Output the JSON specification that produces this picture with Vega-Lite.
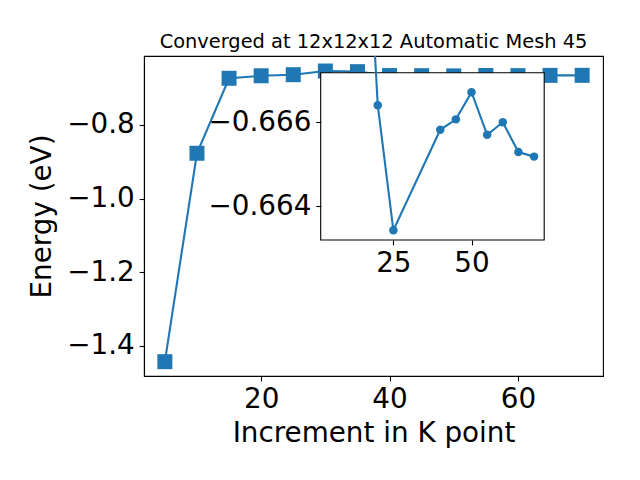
{
  "$schema": "https://vega.github.io/schema/vega-lite/v6.json",
  "autosize": {"type": "none"},
  "padding": {"left": 144, "top": 56, "right": 37, "bottom": 104},
  "width": 459,
  "height": 320,
  "title": {"text": "Converged at 12x12x12 Automatic Mesh 45", "fontSize": 19.4, "font": "DejaVu Sans", "fontWeight": "normal", "color": "black", "anchor": "middle", "offset": 4},
  "config": {
    "font": "DejaVu Sans",
    "view": {"stroke": "black", "strokeWidth": 1.1},
    "axis": {"labelFont": "DejaVu Sans", "labelFontSize": 27.8, "labelColor": "black", "titleFont": "DejaVu Sans", "titleFontSize": 27.8, "titleFontWeight": "normal", "titleColor": "black", "tickColor": "black", "tickSize": 4.9, "tickWidth": 1.1, "domainColor": "black", "domainWidth": 1.1, "labelPadding": 4.9, "grid": false, "labelFlush": false, "labelOverlap": false}
  },
  "datasets": {
    "main": [
      {"k": 5, "energy": -1.4426},
      {"k": 10, "energy": -0.8768},
      {"k": 15, "energy": -0.6732},
      {"k": 20, "energy": -0.66641},
      {"k": 25, "energy": -0.66342},
      {"k": 30, "energy": -0.6535},
      {"k": 35, "energy": -0.6552},
      {"k": 40, "energy": -0.66582},
      {"k": 45, "energy": -0.66607},
      {"k": 50, "energy": -0.66672},
      {"k": 55, "energy": -0.6657},
      {"k": 60, "energy": -0.666},
      {"k": 65, "energy": -0.66529},
      {"k": 70, "energy": -0.66518}
    ],
    "inset": [
      {"k": 15, "energy": -0.6732},
      {"k": 20, "energy": -0.66641},
      {"k": 25, "energy": -0.66342},
      {"k": 40, "energy": -0.66582},
      {"k": 45, "energy": -0.66607},
      {"k": 50, "energy": -0.66672},
      {"k": 55, "energy": -0.6657},
      {"k": 60, "energy": -0.666},
      {"k": 65, "energy": -0.66529},
      {"k": 70, "energy": -0.66518}
    ]
  },
  "layer": [
    {
      "data": {"name": "main"},
      "encoding": {
        "x": {"field": "k", "type": "quantitative", "scale": {"domain": [1.75, 73.25], "nice": false, "zero": false}, "axis": {"orient": "bottom", "values": [20, 40, 60], "format": "d", "title": "Increment in K point", "titlePadding": 6}},
        "y": {"field": "energy", "type": "quantitative", "scale": {"domain": [-1.4815, -0.6127], "nice": false, "zero": false}, "axis": {"orient": "left", "values": [-1.4, -1.2, -1.0, -0.8], "format": ".1f", "title": "Energy (eV)", "titlePadding": 10}}
      },
      "layer": [
        {"mark": {"type": "line", "color": "#1f77b4", "strokeWidth": 2.1, "clip": true}},
        {"mark": {"type": "point", "shape": "square", "filled": true, "size": 225, "color": "#1f77b4", "opacity": 1, "clip": true}}
      ]
    },
    {
      "layer": [
        {
          "data": {"values": [{}]},
          "mark": {"type": "rect", "fill": "white", "stroke": "black", "strokeWidth": 1.1},
          "encoding": {
            "x": {"datum": 1.75, "type": "quantitative", "scale": {"domain": [1.75, 73.25], "range": [176.7, 400.2], "nice": false, "zero": false}, "axis": {"orient": "bottom", "offset": -136, "values": [25, 50], "format": "d", "title": null, "domain": false, "zindex": 1}},
            "x2": {"datum": 73.25},
            "y": {"datum": -0.667185, "type": "quantitative", "scale": {"domain": [-0.667185, -0.663188], "range": [16.7, 184], "nice": false, "zero": false}, "axis": {"orient": "left", "offset": -176.7, "values": [-0.666, -0.664], "format": ".3f", "title": null, "domain": false, "zindex": 1}},
            "y2": {"datum": -0.663188}
          }
        },
        {
          "data": {"name": "inset"},
          "encoding": {
            "x": {"field": "k", "type": "quantitative"},
            "y": {"field": "energy", "type": "quantitative"}
          },
          "layer": [
            {"mark": {"type": "line", "color": "#1f77b4", "strokeWidth": 2.1, "clip": true}},
            {"mark": {"type": "point", "shape": "circle", "filled": true, "size": 72, "color": "#1f77b4", "opacity": 1, "clip": true}}
          ]
        }
      ]
    }
  ],
  "resolve": {"scale": {"x": "independent", "y": "independent"}, "axis": {"x": "independent", "y": "independent"}}
}
